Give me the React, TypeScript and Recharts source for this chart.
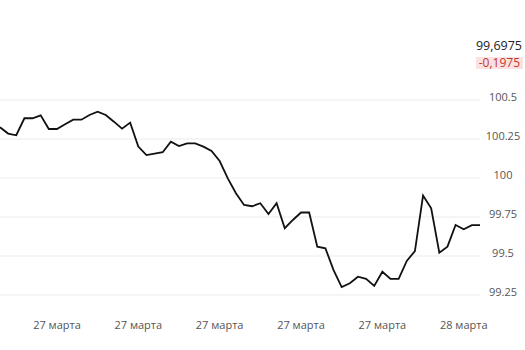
import { LineChart, Line, XAxis, YAxis, CartesianGrid } from 'recharts'

const prices = [
  100.325, 100.285, 100.274, 100.383, 100.383, 100.402, 100.314, 100.314, 100.344, 100.374,
  100.374, 100.404, 100.425, 100.404, 100.361, 100.316, 100.355, 100.201, 100.147, 100.156,
  100.165, 100.233, 100.205, 100.222, 100.222, 100.201, 100.173, 100.109, 99.998, 99.902,
  99.827, 99.819, 99.838, 99.769, 99.838, 99.678, 99.731, 99.779, 99.779, 99.56,
  99.549, 99.41, 99.301, 99.325, 99.367, 99.353, 99.308, 99.399, 99.353, 99.353,
  99.468, 99.532, 99.887, 99.806, 99.521, 99.56, 99.699, 99.671, 99.6975, 99.6975,
]
const xTicks = [7, 17, 27, 37, 47, 57]
const xTickLabels = ['27 марта', '27 марта', '27 марта', '27 марта', '27 марта', '28 марта']
const yTicks = [99.25, 99.5, 99.75, 100, 100.25, 100.5]
const lastPrice = '99,6975'
const change = '-0,1975'

const data = prices.map((p, i) => ({ i, p }))
const font = '"Open Sans", Arial, sans-serif'

function PriceTick({ y, payload }: any) {
  return (
    <text x={503} y={y - 3} dy="0.35em" textAnchor="middle" fill="#555" fontSize={11} fontFamily={font}>
      {String(payload.value)}
    </text>
  )
}

export default function App() {
  return (
    <div style={{ position: 'absolute', left: 0, top: 0, width: 525, height: 350, background: '#fff' }}>
      <LineChart width={525} height={350} data={data} margin={{ top: 100, right: 0, left: 0, bottom: 24 }}>
        <CartesianGrid vertical={false} stroke="#ebebeb" />
        <XAxis
          type="number"
          dataKey="i"
          domain={[0, 59]}
          ticks={xTicks}
          tickFormatter={(v: number) => xTickLabels[xTicks.indexOf(v)] ?? ''}
          axisLine={false}
          tickLine={false}
          tickMargin={20}
          height={31}
          tick={{ fill: '#555', fontSize: 11, fontFamily: font }}
        />
        <YAxis
          orientation="right"
          domain={[99.25, 100.5]}
          ticks={yTicks}
          width={45}
          axisLine={false}
          tickLine={false}
          tick={PriceTick}
        />
        <Line type="linear" dataKey="p" stroke="#111" strokeWidth={1.8} dot={false} isAnimationActive={false} />
      </LineChart>
      <div style={{ position: 'absolute', right: 3, top: 38, height: 16, lineHeight: '16px', fontFamily: font, fontSize: 12.5, color: '#222' }}>
        {lastPrice}
      </div>
      <div style={{ position: 'absolute', right: 2, top: 57, padding: '0 3px', height: 12, lineHeight: '12px', fontFamily: font, fontSize: 12, color: '#c0392b', background: '#fbe1e1' }}>
        {change}
      </div>
    </div>
  )
}
